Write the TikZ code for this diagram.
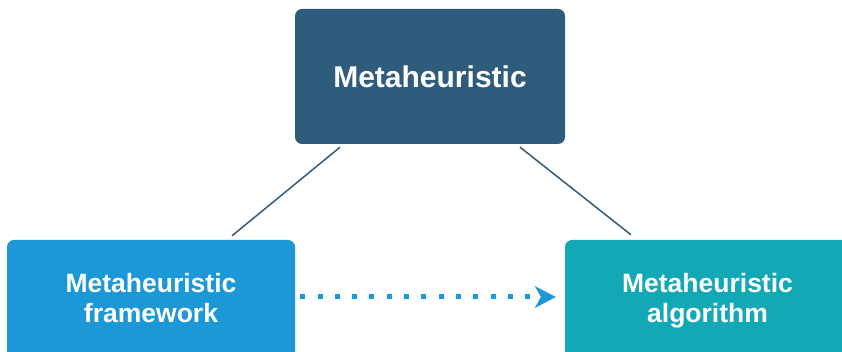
\documentclass[tikz,border=0pt]{standalone}
\usepackage{fontspec}
\setmainfont{Liberation Sans}
\usetikzlibrary{arrows.meta}
\definecolor{topblue}{RGB}{47,92,125}
\definecolor{midblue}{RGB}{27,152,213}
\definecolor{teal}{RGB}{19,168,181}
\tikzset{
  box/.style={rounded corners=7pt, text=white, font=\bfseries, align=center, inner sep=0pt},
  lowbox/.style={box, minimum height=124pt, font=\bfseries\fontsize{26.5}{30}\selectfont},
  conn/.style={draw=topblue, line width=1.5pt},
  flow/.style={draw=midblue, line width=5pt, dash pattern=on 5pt off 12.3pt,
    -{Stealth[length=21pt,width=22pt,inset=6pt,line width=0pt]}}
}
\begin{document}
\begin{tikzpicture}[x=1pt,y=1pt]
\useasboundingbox (0,0) rectangle (842,352);
\node[box, fill=topblue, minimum width=270pt, minimum height=135pt, font=\bfseries\fontsize{30}{34}\selectfont]
  (meta) at (430,275.5) {Metaheuristic};
\node[lowbox, fill=midblue, minimum width=288pt]
  (frame) at (151,50) {\strut Metaheuristic\\\strut framework};
\node[lowbox, fill=teal, minimum width=285pt]
  (algo) at (707.5,50) {\strut Metaheuristic\\\strut algorithm};
\draw[conn] ([xshift=-90pt,yshift=-3pt]meta.south) -- ([xshift=81pt,yshift=4pt]frame.north);
\draw[conn] ([xshift=90pt,yshift=-3pt]meta.south) -- ([xshift=-76.5pt,yshift=5pt]algo.north);
\draw[flow] ([xshift=5pt,yshift=5pt]frame.east) -- ([xshift=-9pt,yshift=5pt]algo.west);
\end{tikzpicture}
\end{document}
